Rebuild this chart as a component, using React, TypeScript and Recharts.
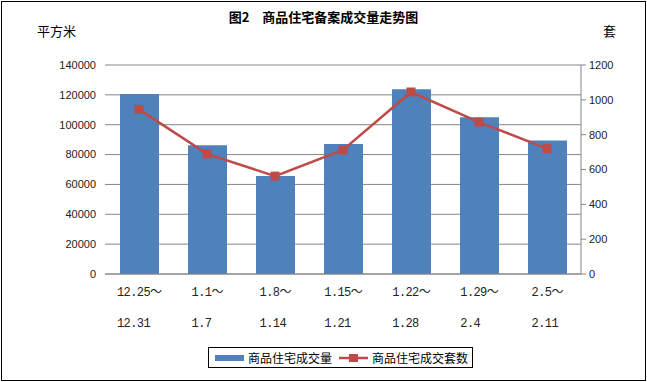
import React from "react";
import { ComposedChart, Bar, Line, XAxis, YAxis, CartesianGrid } from "recharts";

const periodStart = ["12.25～", "1.1～", "1.8～", "1.15～", "1.22～", "1.29～", "2.5～"];
const periodEnd = ["12.31", "1.7", "1.14", "1.21", "1.28", "2.4", "2.11"];
const areaValues = [120500, 86200, 65600, 87000, 123800, 105000, 89500];
const unitValues = [945, 690, 562, 712, 1045, 872, 720];
const leftTicks = [0, 20000, 40000, 60000, 80000, 100000, 120000, 140000];
const rightTicks = [0, 200, 400, 600, 800, 1000, 1200];

const seriesBarName = "商品住宅成交量";
const seriesLineName = "商品住宅成交套数";
const titleText = "图2　商品住宅备案成交量走势图";

const data = periodStart.map((s, i) => ({
  cat: s,
  end: periodEnd[i],
  area: areaValues[i],
  units: unitValues[i],
}));

const BLUE = "#4F81BD";
const RED = "#BE4B48";
const GRID = "#868686";
const NUMFONT = "'Liberation Sans', Arial, sans-serif";
const MONO = "'Liberation Mono', 'Noto Sans CJK SC', monospace";
const CJK = "'Noto Sans CJK SC', 'Noto Sans', sans-serif";

const XTick = (props: any) => {
  const { x, y, payload, index } = props;
  const first = String(payload.value);
  const second = periodEnd[index] ?? "";
  const w = (first.length - 1) * 6.6 + 11;
  const left = x - w / 2;
  return (
    <g>
      <text x={left} y={y + 22} textAnchor="start" fontFamily={MONO} fontSize={12} letterSpacing={-0.6} fill="#222">
        {first}
      </text>
      <text x={left} y={y + 53} textAnchor="start" fontFamily={MONO} fontSize={12} letterSpacing={-0.6} fill="#222">
        {second}
      </text>
    </g>
  );
};

const SquareDot = (props: any) => {
  const { cx, cy, index } = props;
  if (cx == null || cy == null) return <g key={index} />;
  return <rect key={index} x={cx - 4.5} y={cy - 4.5} width={9} height={9} fill={RED} />;
};

export default function App() {
  return (
    <div style={{ position: "absolute", left: 0, top: 0, width: 647, height: 382, background: "#fff" }}>
      <div
        style={{
          position: "absolute",
          left: 1,
          top: 1,
          width: 645,
          height: 380,
          border: "1px solid #000",
          boxSizing: "border-box",
        }}
      />
      <div
        style={{
          position: "absolute",
          left: 0,
          width: 647,
          top: 8,
          textAlign: "center",
          fontFamily: CJK,
          fontWeight: "bold",
          fontSize: 13,
          lineHeight: "18px",
          color: "#000",
        }}
      >
        {titleText}
      </div>
      <div style={{ position: "absolute", left: 37, top: 23, fontFamily: CJK, fontSize: 13, lineHeight: "16px" }}>
        平方米
      </div>
      <div style={{ position: "absolute", left: 603, top: 23, fontFamily: CJK, fontSize: 13, lineHeight: "16px" }}>
        套
      </div>
      <div style={{ position: "absolute", left: 0, top: 0 }}>
        <ComposedChart
          width={647}
          height={382}
          data={data}
          margin={{ top: 65, right: 0, bottom: 58, left: 0 }}
          barCategoryGap={0}
        >
          <CartesianGrid yAxisId="left" vertical={false} horizontal stroke={GRID} strokeWidth={1} />
          <XAxis
            dataKey="cat"
            height={50}
            axisLine={{ stroke: GRID }}
            tickLine={false}
            tickSize={0}
            tickMargin={0}
            interval={0}
            tick={<XTick />}
          />
          <YAxis
            yAxisId="left"
            width={105}
            domain={[0, 140000]}
            ticks={leftTicks}
            axisLine={false}
            tickLine={false}
            tickSize={0}
            tickMargin={9}
            tick={{ fontFamily: NUMFONT, fontSize: 11, fill: "#222" }}
          />
          <YAxis
            yAxisId="right"
            orientation="right"
            width={66}
            domain={[0, 1200]}
            ticks={rightTicks}
            axisLine={{ stroke: GRID }}
            tickLine={{ stroke: GRID }}
            tickSize={5}
            tickMargin={3}
            tick={{ fontFamily: NUMFONT, fontSize: 11, fill: "#222", textAnchor: "start" }}
          />
          <Bar yAxisId="left" dataKey="area" name={seriesBarName} fill={BLUE} barSize={39} isAnimationActive={false} />
          <Line
            yAxisId="right"
            dataKey="units"
            name={seriesLineName}
            stroke={RED}
            strokeWidth={2.5}
            dot={<SquareDot />}
            activeDot={false}
            isAnimationActive={false}
          />
        </ComposedChart>
      </div>
      <div
        style={{
          position: "absolute",
          left: 208,
          top: 347,
          width: 265,
          height: 21,
          border: "1px solid #000",
          boxSizing: "border-box",
          display: "flex",
          alignItems: "center",
          fontFamily: CJK,
          fontSize: 12,
          color: "#000",
          background: "#fff",
        }}
      >
        <svg width={30} height={10} style={{ marginLeft: 6 }}>
          <rect x={0} y={2} width={29} height={6} fill={BLUE} />
        </svg>
        <span style={{ marginLeft: 3, lineHeight: "14px" }}>{seriesBarName}</span>
        <svg width={30} height={10} style={{ marginLeft: 7 }}>
          <line x1={0} y1={5} x2={29} y2={5} stroke={RED} strokeWidth={2.5} />
          <rect x={10} y={1} width={9} height={8} fill={RED} />
        </svg>
        <span style={{ marginLeft: 3, lineHeight: "14px" }}>{seriesLineName}</span>
      </div>
    </div>
  );
}
